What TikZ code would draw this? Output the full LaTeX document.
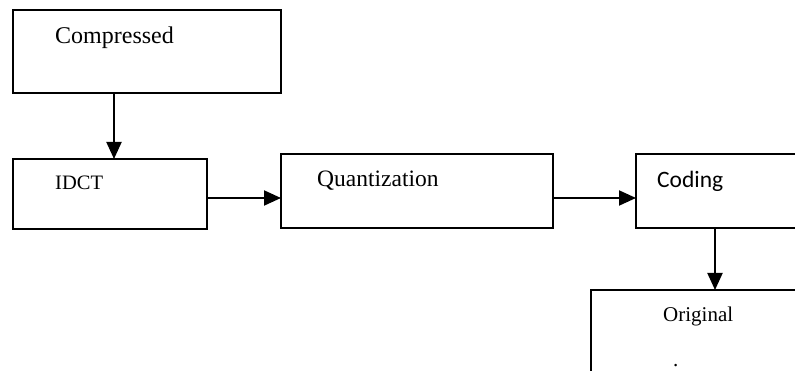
\documentclass[tikz,border=0pt]{standalone}
\usepackage{fontspec}
\setmainfont{Liberation Serif}
\newfontfamily\calfont{Carlito}
\usetikzlibrary{arrows.meta}
\begin{document}
\begin{tikzpicture}[x=1pt,y=-1pt,
  boxst/.style={draw,line width=1.8pt,rectangle,inner sep=0pt,outer sep=0pt},
  lbl/.style={anchor=base west,inner sep=0pt},
  arr/.style={line width=2pt,-{Triangle[length=17pt 0 0,width=15pt 0 0]}}]
\useasboundingbox (0,0) rectangle (795,371);
\clip (0,0) rectangle (795,371);
\node[boxst,minimum width=268pt,minimum height=83pt] (comp) at (147,51.5) {};
\node[boxst,minimum width=194pt,minimum height=70pt] (idct) at (110,194) {};
\node[boxst,minimum width=272pt,minimum height=74pt] (quant) at (417,191) {};
\node[boxst,minimum width=364pt,minimum height=74pt] (cod) at (818,191) {};
\node[boxst,minimum width=409pt,minimum height=160pt] (orig) at (795.5,370) {};
\node[lbl,font=\fontsize{24}{28}\selectfont] (tcomp) at (55,44) {Compressed};
\node[lbl,font=\fontsize{20.5}{24}\selectfont] (tidct) at (55,190) {IDCT};
\node[lbl,font=\fontsize{23.5}{28}\selectfont] (tquant) at (317,187) {Quantization};
\node[lbl,font=\calfont\fontsize{23.5}{28}\selectfont] (tcod) at (657,188) {Coding};
\node[lbl,font=\fontsize{21}{25}\selectfont] (torig) at (663,321) {Original};
\node[lbl,font=\fontsize{21}{25}\selectfont] (tdot) at (673,366) {.};
\draw[arr] ([xshift=101pt]comp.south west) -- ([xshift=101pt]idct.north west);
\draw[arr] ([yshift=-4pt]idct.east) -- ([yshift=-7pt]quant.west);
\draw[arr] ([yshift=-7pt]quant.east) -- ([yshift=-7pt]cod.west);
\draw[arr] ([xshift=79pt]cod.south west) -- ([xshift=124pt]orig.north west);
\end{tikzpicture}
\end{document}
